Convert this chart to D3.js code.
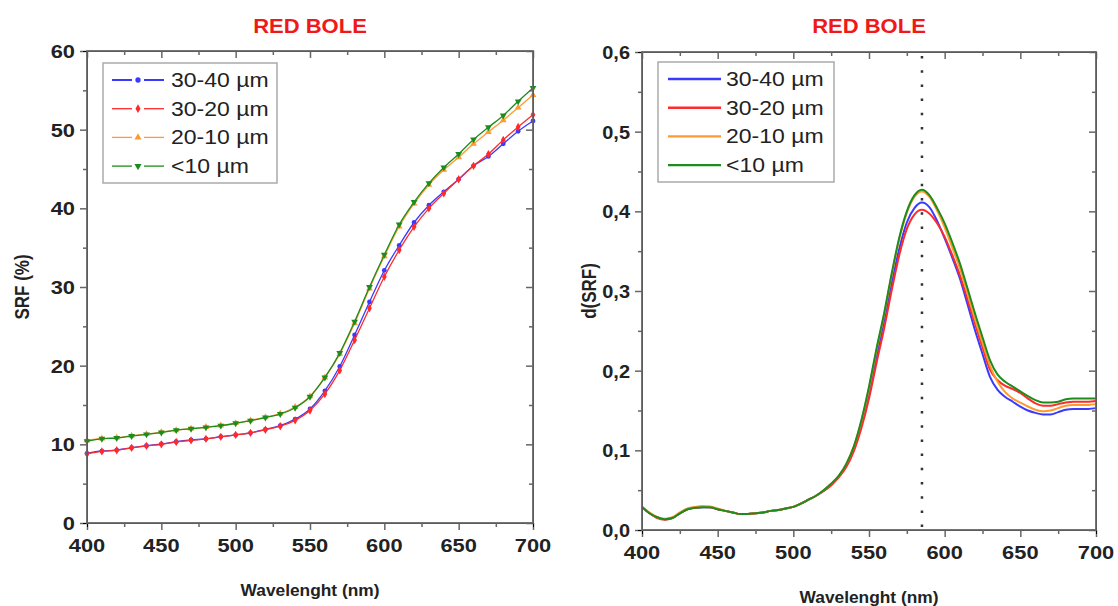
<!DOCTYPE html>
<html>
<head>
<meta charset="utf-8">
<script src="https://cdn.jsdelivr.net/npm/d3@7"></script>
<style>
  body { margin: 0; background: #fff; }
  svg { display: block; }
  text { font-family: "Liberation Sans", Arial, sans-serif; fill: #222; }
</style>
</head>
<body>
<div id="chart"></div>
<script>
// ---- data ----
var seriesNames = ["30-40 µm", "30-20 µm", "20-10 µm", "<10 µm"];
var seriesColors = ["#3a3aff", "#ff2b2b", "#ff9a30", "#1d8c1d"];

// left panel: SRF (%) every 10 nm
var wlCoarse = [400, 410, 420, 430, 440, 450, 460, 470, 480, 490, 500, 510, 520, 530, 540, 550,
                560, 570, 580, 590, 600, 610, 620, 630, 640, 650, 660, 670, 680, 690, 700];
var srf3040 = [8.85, 9.15, 9.27, 9.57, 9.83, 10.04, 10.33, 10.55, 10.7, 10.97, 11.2, 11.47, 11.9, 12.37, 13.2, 14.5,
               16.8, 19.9, 23.9, 28.1, 32.1, 35.3, 38.2, 40.4, 42.1, 43.7, 45.4, 46.6, 48.2, 49.8, 51.1];
var srf3020 = [8.8, 9.1, 9.25, 9.55, 9.8, 10.0, 10.3, 10.5, 10.7, 10.95, 11.2, 11.45, 11.85, 12.3, 13.05, 14.3,
               16.4, 19.4, 23.25, 27.3, 31.3, 34.7, 37.65, 40.0, 41.9, 43.7, 45.4, 46.9, 48.7, 50.35, 51.9];
var srf2010 = [10.5, 10.75, 10.85, 11.1, 11.3, 11.55, 11.8, 12.0, 12.2, 12.4, 12.7, 13.05, 13.45, 13.9, 14.75, 16.1,
               18.5, 21.5, 25.4, 29.8, 33.9, 37.7, 40.6, 43.0, 44.9, 46.5, 48.2, 49.7, 51.2, 52.8, 54.4];
var srf10 = [10.4, 10.7, 10.8, 11.05, 11.27, 11.5, 11.8, 11.98, 12.16, 12.37, 12.67, 13.0, 13.4, 13.85, 14.65, 16.05,
             18.5, 21.6, 25.6, 30.0, 34.1, 37.95, 40.8, 43.2, 45.2, 46.9, 48.75, 50.3, 51.8, 53.6, 55.3];

// right panel: d(SRF) every 5 nm
var wlFine = [400, 405, 410, 415, 420, 425, 430, 435, 440, 445, 450, 455, 460, 465, 470, 475, 480, 485, 490, 495,
              500, 505, 510, 515, 520, 525, 530, 535, 540, 545, 550, 555, 560, 565, 570, 575, 580, 585, 590, 595,
              600, 605, 610, 615, 620, 625, 630, 635, 640, 645, 650, 655, 660, 665, 670, 675, 680, 685, 690, 695, 700];
var d3040 = [.029, .021, .016, .0135, .015, .021, .026, .028, .0285, .0285, .026, .024, .022, .020, .020, .021, .022, .024, .025, .027,
             .029, .033, .038, .043, .049, .057, .067, .081, .102, .133, .172, .218, .262, .310, .353, .386, .404, .411, .405, .388,
             .366, .342, .316, .284, .251, .221, .192, .176, .167, .161, .155, .150, .147, .145, .145, .148, .151, .152, .152, .152, .153];
var d3020 = [.029, .021, .015, .013, .015, .021, .026, .028, .029, .0285, .026, .024, .022, .020, .020, .021, .022, .024, .025, .027,
             .029, .033, .038, .043, .049, .056, .066, .079, .099, .128, .165, .210, .253, .301, .345, .378, .396, .402, .397, .385,
             .368, .345, .320, .290, .259, .229, .201, .188, .181, .177, .172, .165, .159, .156, .156, .158, .160, .161, .161, .161, .162];
var d2010 = [.029, .022, .016, .014, .016, .022, .027, .029, .030, .0295, .027, .024, .022, .020, .020, .021, .022, .024, .025, .027,
             .029, .033, .038, .043, .050, .058, .068, .083, .105, .137, .178, .226, .270, .320, .365, .398, .418, .425, .418, .401,
             .380, .355, .329, .298, .265, .235, .206, .186, .173, .165, .160, .155, .151, .149, .150, .153, .156, .157, .157, .157, .158];
var d10 = [.029, .021, .016, .0135, .015, .021, .026, .028, .0285, .0285, .026, .024, .022, .020, .020, .021, .022, .024, .025, .027,
           .029, .033, .038, .043, .050, .058, .068, .083, .105, .138, .180, .228, .272, .322, .367, .400, .420, .427, .420, .404,
           .385, .361, .335, .304, .272, .242, .213, .195, .186, .180, .174, .168, .163, .160, .160, .161, .164, .165, .165, .165, .165];

var xMajor = [400, 450, 500, 550, 600, 650, 700];
var xMinor = [425, 475, 525, 575, 625, 675];
var yMajorL = [0, 10, 20, 30, 40, 50, 60];
var yMinorL = [5, 15, 25, 35, 45, 55];
var yMajorR = [0, 0.1, 0.2, 0.3, 0.4, 0.5, 0.6];
var yMinorR = [0.05, 0.15, 0.25, 0.35, 0.45, 0.55];
var peakLine = 585;

var textStretch = 1.15;

var svg = d3.select("#chart").append("svg")
    .attr("width", 1118)
    .attr("height", 606);

function stretchText(sel, x, y, rot, k) {
    k = k || textStretch;
    sel.attr("transform", "translate(" + x + "," + y + ")" + (rot ? " rotate(" + rot + ")" : "") +
        " scale(" + (rot ? "1," + k : k + ",1") + ")");
}

var markers = [d3.symbolCircle, d3.symbolDiamond, d3.symbolTriangle, d3.symbolTriangle];
var markerRot = [0, 0, 0, 180];

function drawPanel(p) {
    var x = d3.scaleLinear().domain([400, 700]).range([p.left, p.right]);
    var y = d3.scaleLinear().domain(p.yDomain).range([p.bottom, p.top]);
    var g = svg.append("g");

    // data
    var line = d3.line()
        .x(function(d) { return x(d[0]); })
        .y(function(d) { return y(d[1]); })
        .curve(d3.curveMonotoneX);

    p.series.forEach(function(vals, i) {
        var pts = p.wl.map(function(w, j) { return [w, vals[j]]; });
        g.append("path")
            .attr("d", line(pts))
            .attr("fill", "none")
            .attr("stroke", seriesColors[i])
            .attr("stroke-width", p.lineWidth);
        if (p.markers) {
            g.selectAll(null).data(pts).enter().append("path")
                .attr("d", d3.symbol().type(markers[i]).size(i == 0 ? 18 : 20))
                .attr("fill", seriesColors[i])
                .attr("transform", function(d) {
                    return "translate(" + x(d[0]) + "," + y(d[1]) + ") rotate(" + markerRot[i] + ")";
                });
        }
    });

    if (p.vline) {
        g.append("line")
            .attr("x1", x(p.vline)).attr("x2", x(p.vline))
            .attr("y1", p.top + 4).attr("y2", p.bottom)
            .attr("stroke", "#333")
            .attr("stroke-width", 2.5)
            .attr("stroke-dasharray", "2.5,11.7");
    }

    // axes: outward on bottom/left, inward mirrors on top/right
    var tickColor = "#666";
    function styleAxis(a) {
        a.select(".domain").remove();
        a.selectAll(".tick line").attr("stroke", tickColor).attr("stroke-width", 1.5);
    }
    var bot = g.append("g").attr("transform", "translate(0," + p.bottom + ")");
    bot.call(d3.axisBottom(x).tickValues(xMajor).tickSize(7).tickPadding(4));
    bot.append("g").call(d3.axisBottom(x).tickValues(xMinor).tickSize(4).tickFormat(""));
    styleAxis(bot);
    bot.selectAll("text").remove();
    xMajor.forEach(function(v) {
        var t = g.append("text").attr("text-anchor", "middle")
            .style("font-size", "19px").style("font-weight", "bold").text(v);
        stretchText(t, x(v), p.bottom + p.xLabelDy, 0);
    });

    var top = g.append("g").attr("transform", "translate(0," + p.top + ")");
    top.call(d3.axisTop(x).tickValues(xMajor).tickSize(-7).tickFormat(""));
    top.append("g").call(d3.axisTop(x).tickValues(xMinor).tickSize(-4).tickFormat(""));
    styleAxis(top);

    var lft = g.append("g").attr("transform", "translate(" + p.left + ",0)");
    lft.call(d3.axisLeft(y).tickValues(p.yMajor).tickSize(7).tickFormat(""));
    lft.append("g").call(d3.axisLeft(y).tickValues(p.yMinor).tickSize(4).tickFormat(""));
    styleAxis(lft);
    p.yMajor.forEach(function(v) {
        var t = g.append("text").attr("text-anchor", "end")
            .style("font-size", "19px").style("font-weight", "bold").text(p.fmt(v));
        stretchText(t, p.left - 12, y(v) + 7, 0, p.yLabelK);
    });

    var rgt = g.append("g").attr("transform", "translate(" + p.right + ",0)");
    rgt.call(d3.axisRight(y).tickValues(p.yMajor).tickSize(-7).tickFormat(""));
    rgt.append("g").call(d3.axisRight(y).tickValues(p.yMinor).tickSize(-4).tickFormat(""));
    styleAxis(rgt);

    g.append("rect")
        .attr("x", p.left).attr("y", p.top)
        .attr("width", p.right - p.left).attr("height", p.bottom - p.top)
        .attr("fill", "none").attr("stroke", tickColor).attr("stroke-width", 1.8);

    // titles
    var cx = (p.left + p.right) / 2;
    var tt = g.append("text").attr("text-anchor", "middle")
        .style("font-size", "20px").style("font-weight", "bold").style("fill", "#f01818")
        .text("RED BOLE");
    stretchText(tt, cx, 33, 0, 1.1);
    var xt = g.append("text").attr("text-anchor", "middle")
        .style("font-size", "17px").style("font-weight", "bold").text("Wavelenght (nm)");
    stretchText(xt, cx, p.xTitleY, 0, 1.02);
    var yt = g.append("text").attr("text-anchor", "middle")
        .style("font-size", "17px").style("font-weight", "bold").text(p.yTitle);
    stretchText(yt, p.yTitleX, (p.top + p.bottom) / 2, -90);

    // legend
    var lg = g.append("g");
    lg.append("rect")
        .attr("x", p.leg.x).attr("y", p.leg.y)
        .attr("width", p.leg.w).attr("height", p.leg.h)
        .attr("fill", "#fff").attr("stroke", "#aaa").attr("stroke-width", 1.5);
    seriesNames.forEach(function(name, i) {
        var ry = p.leg.y + 17 + i * 28.7;
        var lx = p.leg.x + 9;
        if (p.markers) {
            lg.append("line").attr("x1", lx).attr("x2", lx + 20).attr("y1", ry).attr("y2", ry)
                .attr("stroke", seriesColors[i]).attr("stroke-width", i == 0 ? 2 : 1.3);
            lg.append("line").attr("x1", lx + 32).attr("x2", lx + 52).attr("y1", ry).attr("y2", ry)
                .attr("stroke", seriesColors[i]).attr("stroke-width", i == 0 ? 2 : 1.3);
            lg.append("path")
                .attr("d", d3.symbol().type(markers[i]).size(22))
                .attr("fill", seriesColors[i])
                .attr("transform", "translate(" + (lx + 26) + "," + ry + ") rotate(" + markerRot[i] + ")");
        } else {
            lg.append("line").attr("x1", lx + 1).attr("x2", lx + 54).attr("y1", ry).attr("y2", ry)
                .attr("stroke", seriesColors[i]).attr("stroke-width", 2.4);
        }
        var t = lg.append("text").style("font-size", "20px").text(name);
        stretchText(t, lx + 59, ry + 7, 0);
    });
}

drawPanel({
    left: 87, right: 533, top: 51, bottom: 523,
    yDomain: [0, 60], yMajor: yMajorL, yMinor: yMinorL,
    fmt: function(v) { return v; }, yLabelK: 1.15,
    wl: wlCoarse, series: [srf3040, srf3020, srf2010, srf10],
    markers: true, lineWidth: 1.3,
    xLabelDy: 29, xTitleY: 596, yTitle: "SRF (%)", yTitleX: 29,
    leg: { x: 103, y: 63, w: 174, h: 120 }
});

drawPanel({
    left: 642, right: 1096, top: 52, bottom: 530,
    yDomain: [0, 0.6], yMajor: yMajorR, yMinor: yMinorR,
    fmt: function(v) { return d3.format(".1f")(v).replace(".", ","); }, yLabelK: 1.05,
    wl: wlFine, series: [d3040, d3020, d2010, d10],
    markers: false, lineWidth: 2,
    vline: peakLine,
    xLabelDy: 29, xTitleY: 603, yTitle: "d(SRF)", yTitleX: 596,
    leg: { x: 658, y: 62, w: 176, h: 120 }
});
</script>
</body>
</html>
